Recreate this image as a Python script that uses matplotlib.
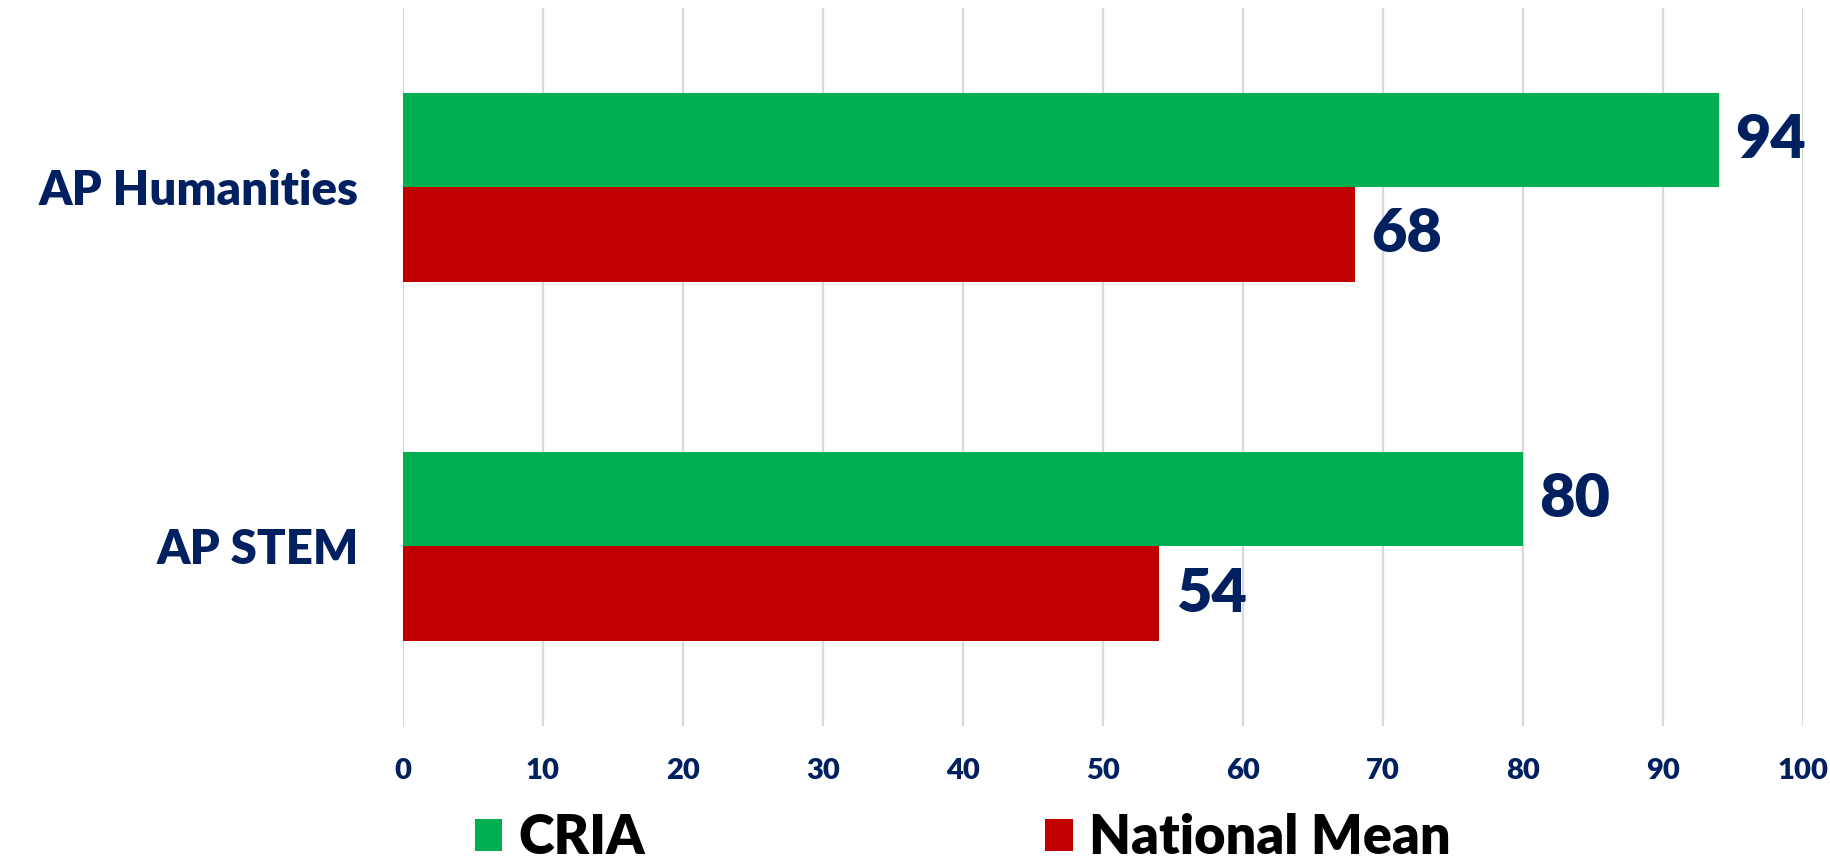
import matplotlib
matplotlib.use("Agg")
import numpy as np
import matplotlib.pyplot as plt

categories = ["AP Humanities", "AP STEM"]
cria = [94, 80]
national = [68, 54]
series_names = ["CRIA", "National Mean"]
x_ticks = [0, 10, 20, 30, 40, 50, 60, 70, 80, 90, 100]

GREEN = "#00B050"
RED = "#C00000"
NAVY = "#002060"
FONT = "Lato"
WEIGHT = "heavy"

fig = plt.figure(figsize=(18.3, 8.65), dpi=100)
ax = fig.add_axes([0.2202, 0.1607, 0.765, 0.8301])

y = np.arange(len(categories))
h = 0.262
b1 = ax.barh(y - h / 2, cria, height=h, color=GREEN, label=series_names[0], zorder=3)
b2 = ax.barh(y + h / 2, national, height=h, color=RED, label=series_names[1], zorder=3)

for bars in (b1, b2):
	ax.bar_label(bars, padding=12, color=NAVY, fontsize=44, fontweight=WEIGHT, family=FONT)

ax.set_ylim(len(categories) - 0.5, -0.5)
ax.set_xlim(0, 100)
ax.set_xticks(x_ticks)
ax.set_xticklabels([str(t) for t in x_ticks])
ax.set_yticks(y)
ax.set_yticklabels(categories)

for lbl in ax.get_xticklabels():
	lbl.set_fontfamily(FONT)
	lbl.set_fontweight(WEIGHT)
	lbl.set_fontsize(21)
	lbl.set_color(NAVY)
for lbl in ax.get_yticklabels():
	lbl.set_fontfamily(FONT)
	lbl.set_fontweight(WEIGHT)
	lbl.set_fontsize(34)
	lbl.set_color(NAVY)

ax.tick_params(axis="x", length=0, pad=23)
ax.tick_params(axis="y", length=0, pad=32)
ax.grid(axis="x", color="#d9d9d9", linewidth=1.6, zorder=0)
for s in ax.spines.values():
	s.set_visible(False)

leg = fig.legend(
	handles=[b1, b2],
	labels=series_names,
	loc="center",
	bbox_to_anchor=(0.526, 0.031),
	ncol=2,
	frameon=False,
	handlelength=0.5,
	handleheight=0.55,
	handletextpad=0.3,
	columnspacing=7.4,
	prop={"family": FONT, "weight": WEIGHT, "size": 39},
)

fig.savefig("out.png", dpi=100)
